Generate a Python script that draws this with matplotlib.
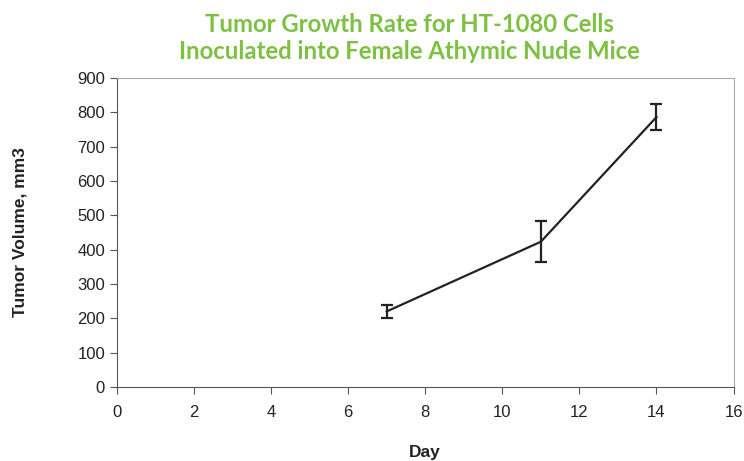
import matplotlib
matplotlib.use('Agg')
import matplotlib.pyplot as plt

plt.rcParams['font.family'] = ['Liberation Sans', 'DejaVu Sans']

days = [7, 11, 14]
volume = [220, 423, 786]
err = [19, 59, 38]

x_ticks = list(range(0, 17, 2))
y_ticks = list(range(0, 901, 100))

fig = plt.figure(figsize=(7.44, 4.61), dpi=100)
ax = fig.add_axes([0.157, 0.1605, 0.829, 0.6705])

ax.errorbar(days, volume, yerr=err, color='#222222', lw=1.6,
            elinewidth=1.6, capsize=4, capthick=1.6)

ax.set_xlim(0, 16)
ax.set_ylim(0, 900)
ax.set_xticks(x_ticks)
ax.set_yticks(y_ticks)

for s in ['left', 'bottom']:
    ax.spines[s].set_color('#555555')
for s in ['top', 'right']:
    ax.spines[s].set_color('#aaaaaa')
ax.tick_params(direction='out', length=5, color='#555555', labelsize=12,
               labelcolor='#222222')
ax.tick_params(axis='x', pad=8)

ax.set_xlabel('Day', fontweight='bold', fontsize=12.5,
              labelpad=18, color='#222222')
ax.set_ylabel('Tumor Volume, mm3', fontweight='bold',
              fontsize=12.5, labelpad=36, color='#222222')

fig.text(0.55, 0.918, 'Tumor Growth Rate for HT-1080 Cells\nInoculated into Female Athymic Nude Mice',
         ha='center', va='center', color='#7dc143', fontsize=17.2, fontweight='bold',
         family='Lato', linespacing=1.2)

plt.savefig('out.png')
plt.close()
